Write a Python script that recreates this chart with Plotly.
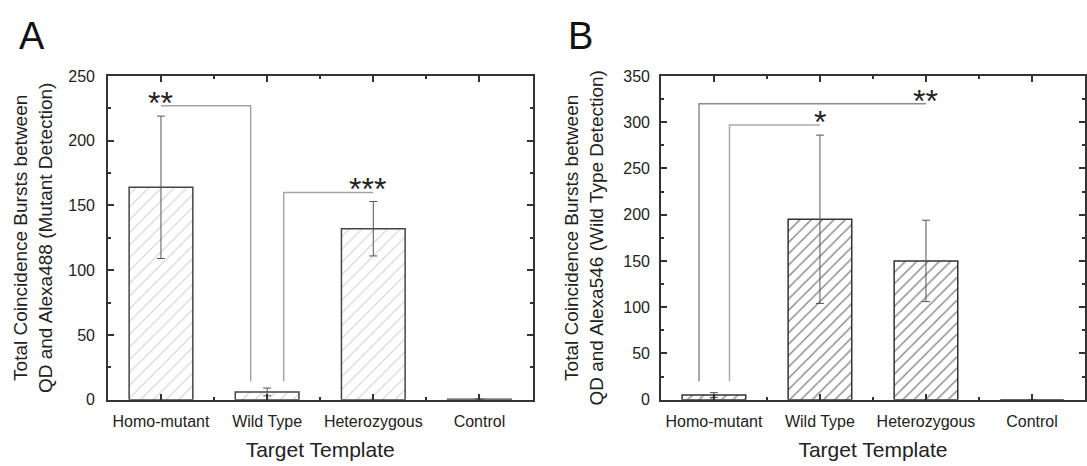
import plotly.graph_objects as go

categories = ["Homo-mutant", "Wild Type", "Heterozygous", "Control"]
cat_pos = [0, 1, 2, 3]

# Panel A: mutant detection (QD + Alexa488)
mutant_values = [164, 6, 132, 0.4]
mutant_errors = [55, 3, 21, 0]
# Panel B: wild type detection (QD + Alexa546)
wildtype_values = [5, 195, 150, 0]
wildtype_errors = [2.6, 91, 44, 0]

y_ticks_a = [0, 50, 100, 150, 200, 250]
y_ticks_b = [0, 50, 100, 150, 200, 250, 300, 350]

# significance brackets (x path, y path in data units) and star labels
brackets_a_x = [[0, 0.845, 0.845], [1.156, 1.156, 2]]
brackets_a_y = [[227, 227, 14], [14, 160, 160]]
stars_a = ["**", "***"]
stars_a_x = [0, 1.95]
stars_a_y = [227, 160]

brackets_b_x = [[-0.14, -0.14, 2], [0.147, 0.147, 1]]
brackets_b_y = [[20, 320, 320], [20, 297, 297]]
brackets_b_col = ["#8c8c8c", "#aaaaaa"]
stars_b = ["**", "*"]
stars_b_x = [2, 1]
stars_b_y = [320, 297]

FONT = "Liberation Sans, Arial, sans-serif"
AX = "#333333"
TXT = "#222222"

fig = go.Figure()

fig.add_trace(go.Bar(
    x=cat_pos, y=mutant_values, width=0.6,
    marker=dict(color="white", line=dict(color="#444444", width=1.5),
                pattern=dict(shape="/", fgcolor="#a0a0a0", bgcolor="white", size=9, solidity=0.12)),
    error_y=dict(type="data", array=mutant_errors, color="#555555", thickness=1, width=4),
    xaxis="x", yaxis="y", showlegend=False))

fig.add_trace(go.Bar(
    x=cat_pos, y=wildtype_values, width=0.6,
    marker=dict(color="white", line=dict(color="#333333", width=1.5),
                pattern=dict(shape="/", fgcolor="#111111", bgcolor="white", size=8, solidity=0.18)),
    error_y=dict(type="data", array=wildtype_errors, color="#555555", thickness=1, width=4),
    xaxis="x2", yaxis="y2", showlegend=False))

for bx, by in zip(brackets_a_x, brackets_a_y):
    fig.add_trace(go.Scatter(x=bx, y=by, mode="lines", line=dict(color="#a5a5a5", width=1.5),
                             xaxis="x", yaxis="y", showlegend=False, hoverinfo="skip"))
for bx, by, bc in zip(brackets_b_x, brackets_b_y, brackets_b_col):
    fig.add_trace(go.Scatter(x=bx, y=by, mode="lines", line=dict(color=bc, width=1.5),
                             xaxis="x2", yaxis="y2", showlegend=False, hoverinfo="skip"))

annotations = []
for t, x, y in zip(stars_a, stars_a_x, stars_a_y):
    annotations.append(dict(x=x, y=y, xref="x", yref="y", text=t, showarrow=False,
                            yanchor="bottom", yshift=-17, font=dict(family=FONT, size=32, color=TXT)))
for t, x, y in zip(stars_b, stars_b_x, stars_b_y):
    annotations.append(dict(x=x, y=y, xref="x2", yref="y2", text=t, showarrow=False,
                            yanchor="bottom", yshift=-17, font=dict(family=FONT, size=32, color=TXT)))
for lab, lx in (("A", 32), ("B", 581)):
    annotations.append(dict(x=lx / 1087, y=1, xref="paper", yref="paper", text=lab,
                            showarrow=False, xanchor="center", yanchor="top", yshift=-5,
                            font=dict(family=FONT, size=38, color="#111111")))

ydom = [(466 - 406.5) / 466, (466 - 70.5) / 466]


def xaxis(domain, anchor):
    return dict(domain=domain, anchor=anchor, range=[-0.5, 3.5], tickvals=cat_pos, ticktext=categories,
                ticks="inside", ticklen=6, tickwidth=1.5, tickcolor=AX, showline=True, linecolor=AX,
                linewidth=1.5, mirror="ticks", showgrid=False, zeroline=False,
                minor=dict(ticks="inside", ticklen=3, tickwidth=1.5, tickcolor=AX, tickvals=[0.5, 1.5, 2.5],
                           showgrid=False),
                tickfont=dict(family=FONT, size=16, color=TXT), ticklabelstandoff=6,
                title=dict(text="Target Template", font=dict(family=FONT, size=21, color=TXT), standoff=14))


def yaxis(rng, tv, anchor, title, lstand, tstand):
    return dict(domain=ydom, anchor=anchor, range=rng, tickvals=tv, ticks="inside", ticklen=6, tickwidth=1.5,
                tickcolor=AX, showline=True, linecolor=AX, linewidth=1.5, mirror="ticks", showgrid=False,
                zeroline=False,
                minor=dict(ticks="inside", ticklen=3, tickwidth=1.5, tickcolor=AX, dtick=25, showgrid=False),
                tickfont=dict(family=FONT, size=16, color=TXT), ticklabelstandoff=lstand,
                title=dict(text=title, font=dict(family=FONT, size=19, color=TXT), standoff=tstand))


fig.update_layout(
    width=1087, height=466, autosize=False,
    margin=dict(l=0, r=0, t=0, b=0),
    paper_bgcolor="white", plot_bgcolor="white",
    xaxis=xaxis([108 / 1087, 533 / 1087], "y"),
    yaxis=yaxis([0, 250], y_ticks_a, "x",
                "Total Coincidence Bursts between<br>QD and Alexa488 (Mutant Detection)", 8, 11),
    xaxis2=xaxis([661.5 / 1087, 1086 / 1087], "y2"),
    yaxis2=yaxis([0, 350], y_ticks_b, "x2",
                 "Total Coincidence Bursts between<br>QD and Alexa546 (Wild Type Detection)", 6, 15),
    annotations=annotations,
    bargap=0.4,
)

fig.write_html("out.html", config={"displayModeBar": False},
               post_script="document.body.style.margin='0';document.body.style.overflow='hidden';")
